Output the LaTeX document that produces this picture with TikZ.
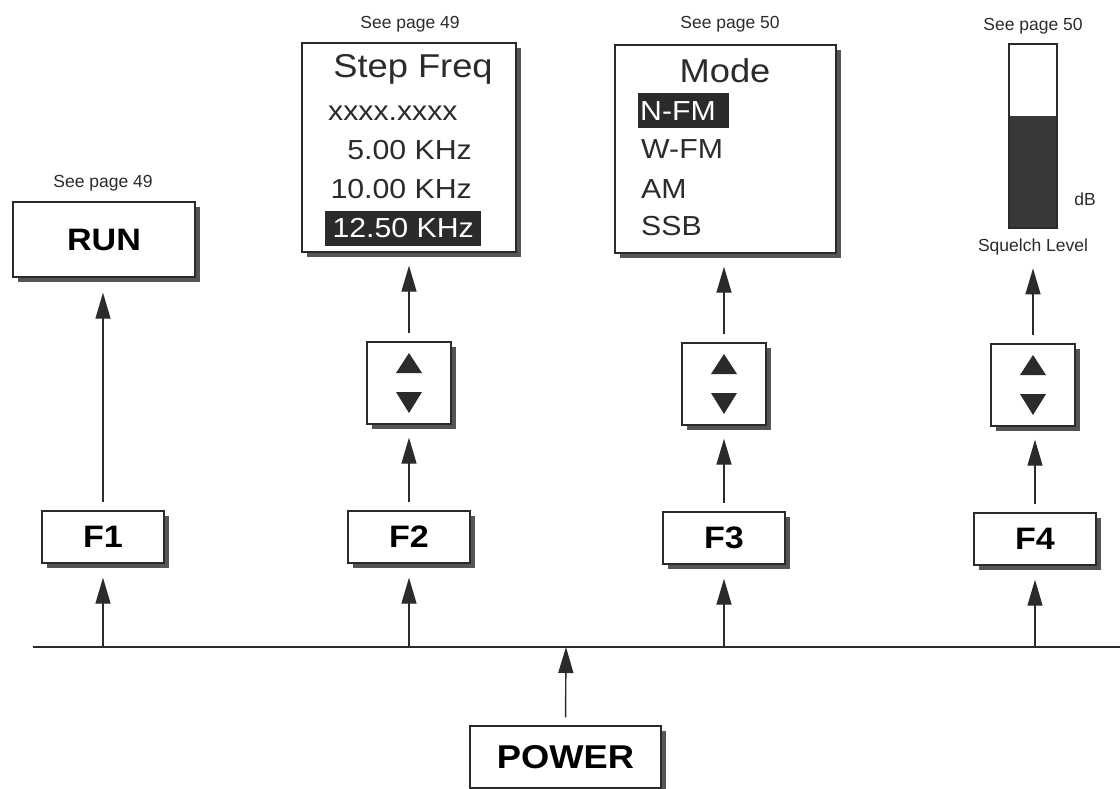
\documentclass[tikz,border=0pt]{standalone}
\usepackage{fontspec}
\setmainfont{Liberation Sans}
\newfontfamily\widefont[FakeStretch=1.1]{Liberation Sans}
\usetikzlibrary{arrows.meta,shadows}
\definecolor{ink}{HTML}{2B2B2B}
\definecolor{barfill}{HTML}{383838}
\begin{document}
\begin{tikzpicture}[x=1pt,y=-1pt,
  box/.style={draw=ink,line width=1.4pt,fill=white,inner sep=0pt,
    drop shadow={opacity=1,fill=ink!80,shadow xshift=4.5pt,shadow yshift=-4.5pt}},
  keybox/.style={box,minimum width=122pt,minimum height=52pt,
    font=\widefont\bfseries\fontsize{31}{31}\selectfont},
  udbox/.style={box,minimum width=84pt,minimum height=82pt},
  screen/.style={box},
  small/.style={inner sep=0pt,font=\fontsize{17.5}{18}\selectfont,text=ink},
  big/.style={inner sep=0pt,font=\widefont\fontsize{33}{33}\selectfont,text=ink},
  item/.style={inner sep=0pt,font=\widefont\fontsize{27.5}{27.5}\selectfont,text=ink},
  hiitem/.style={item,text=white},
  hl/.style={fill=ink,draw=none},
  arr/.style={draw=ink,line width=1.4pt,-{Triangle[length=26pt,width=15pt,fill=ink]}},
  tri/.style={fill=ink,draw=none},
  bus/.style={draw=ink,line width=1.4pt}
]
\useasboundingbox (0,0) rectangle (1120,788);

% ---------- top displays ----------
\node[box,minimum width=182pt,minimum height=75pt,
  font=\widefont\bfseries\fontsize{31}{31}\selectfont] (run) at (104,239.5) {RUN};
\node[small] (see1) at (103,183) {See page 49};

\node[screen,minimum width=214pt,minimum height=209pt] (step) at (409,147.5) {};
\node[small] (see2) at (410,24) {See page 49};
\node[big,anchor=base] (steptitle) at (413,77) {Step Freq};
\node[item,anchor=base west] (s1) at (328,120) {xxxx.xxxx};
\node[item,anchor=base east] (s2) at (472,159) {5.00 KHz};
\node[item,anchor=base east] (s3) at (472,198) {10.00 KHz};
\fill[hl] (325,211) rectangle (481,246);
\node[hiitem,anchor=base east] (s4) at (474,237) {12.50 KHz};

\node[screen,minimum width=221pt,minimum height=208pt] (mode) at (725.5,149) {};
\node[small] (see3) at (730,24) {See page 50};
\node[big,anchor=base] (modetitle) at (725,82) {Mode};
\fill[hl] (638,93) rectangle (729,128);
\node[hiitem,anchor=base west] (m1) at (640,120) {N-FM};
\node[item,anchor=base west] (m2) at (641,158) {W-FM};
\node[item,anchor=base west] (m3) at (641,198) {AM};
\node[item,anchor=base west] (m4) at (641,235) {SSB};

\node[small] (see4) at (1033,26) {See page 50};
\draw[ink,line width=1.4pt,fill=white] (1009,44) rectangle (1057,228);
\fill[barfill] (1009,116) rectangle (1057,228);
\draw[ink,line width=1.4pt] (1009,44) rectangle (1057,228);
\node[small] (db) at (1085,199) {dB};
\node[small] (sq) at (1033,247) {Squelch Level};

% ---------- up/down boxes ----------
\node[udbox] (ud2) at (409,383) {};
\node[udbox] (ud3) at (724,384) {};
\node[udbox] (ud4) at (1033,385) {};
\foreach \n in {ud2,ud3,ud4}{
  \fill[tri] ([shift={(-13,-10)}]\n.center) -- ([shift={(13,-10)}]\n.center) -- ([shift={(0,-30)}]\n.center) -- cycle;
  \fill[tri] ([shift={(-13,9)}]\n.center) -- ([shift={(13,9)}]\n.center) -- ([shift={(0,30)}]\n.center) -- cycle;
}

% ---------- function keys ----------
\node[keybox] (f1) at (103,537) {F1};
\node[keybox] (f2) at (409,537) {F2};
\node[keybox] (f3) at (724,538) {F3};
\node[keybox] (f4) at (1035,539) {F4};

% ---------- power ----------
\node[keybox,minimum width=191pt,minimum height=62pt,
  font=\widefont\bfseries\fontsize{33}{33}\selectfont] (power) at (565.5,757) {POWER};

% ---------- bus ----------
\coordinate (busL) at (33,647);
\coordinate (busR) at (1120,647);
\coordinate (b1) at (103,647);
\coordinate (b2) at (409,647);
\coordinate (b3) at (724,647);
\coordinate (b4) at (1035,647);
\coordinate (bp) at (566,647);
\draw[bus] (busL) -- (busR);

% ---------- connectors ----------
\draw[arr,shorten >=14pt] (b1) -- (f1.south);
\draw[arr,shorten >=14pt] (b2) -- (f2.south);
\draw[arr,shorten >=14pt] (b3) -- (f3.south);
\draw[arr,shorten >=14pt] (b4) -- (f4.south);

\draw[arr,shorten <=8pt,shorten >=15pt] (f1.north) -- (f1.north |- run.south);

\draw[arr,shorten <=8pt,shorten >=13pt] (f2.north) -- (f2.north |- ud2.south);
\draw[arr,shorten <=8pt,shorten >=13pt] (f3.north) -- (f3.north |- ud3.south);
\draw[arr,shorten <=8pt,shorten >=13pt] (f4.north) -- (f4.north |- ud4.south);

\draw[arr,shorten <=8pt,shorten >=13pt] (ud2.north) -- (ud2.north |- step.south);
\draw[arr,shorten <=8pt,shorten >=13pt] (ud3.north) -- (ud3.north |- mode.south);
\draw[arr,shorten <=8pt,shorten >=13pt] (ud4.north) -- (ud4.north |- sq.south);

\draw[arr,shorten <=8pt] (power.north) -- (bp);
\end{tikzpicture}
\end{document}
